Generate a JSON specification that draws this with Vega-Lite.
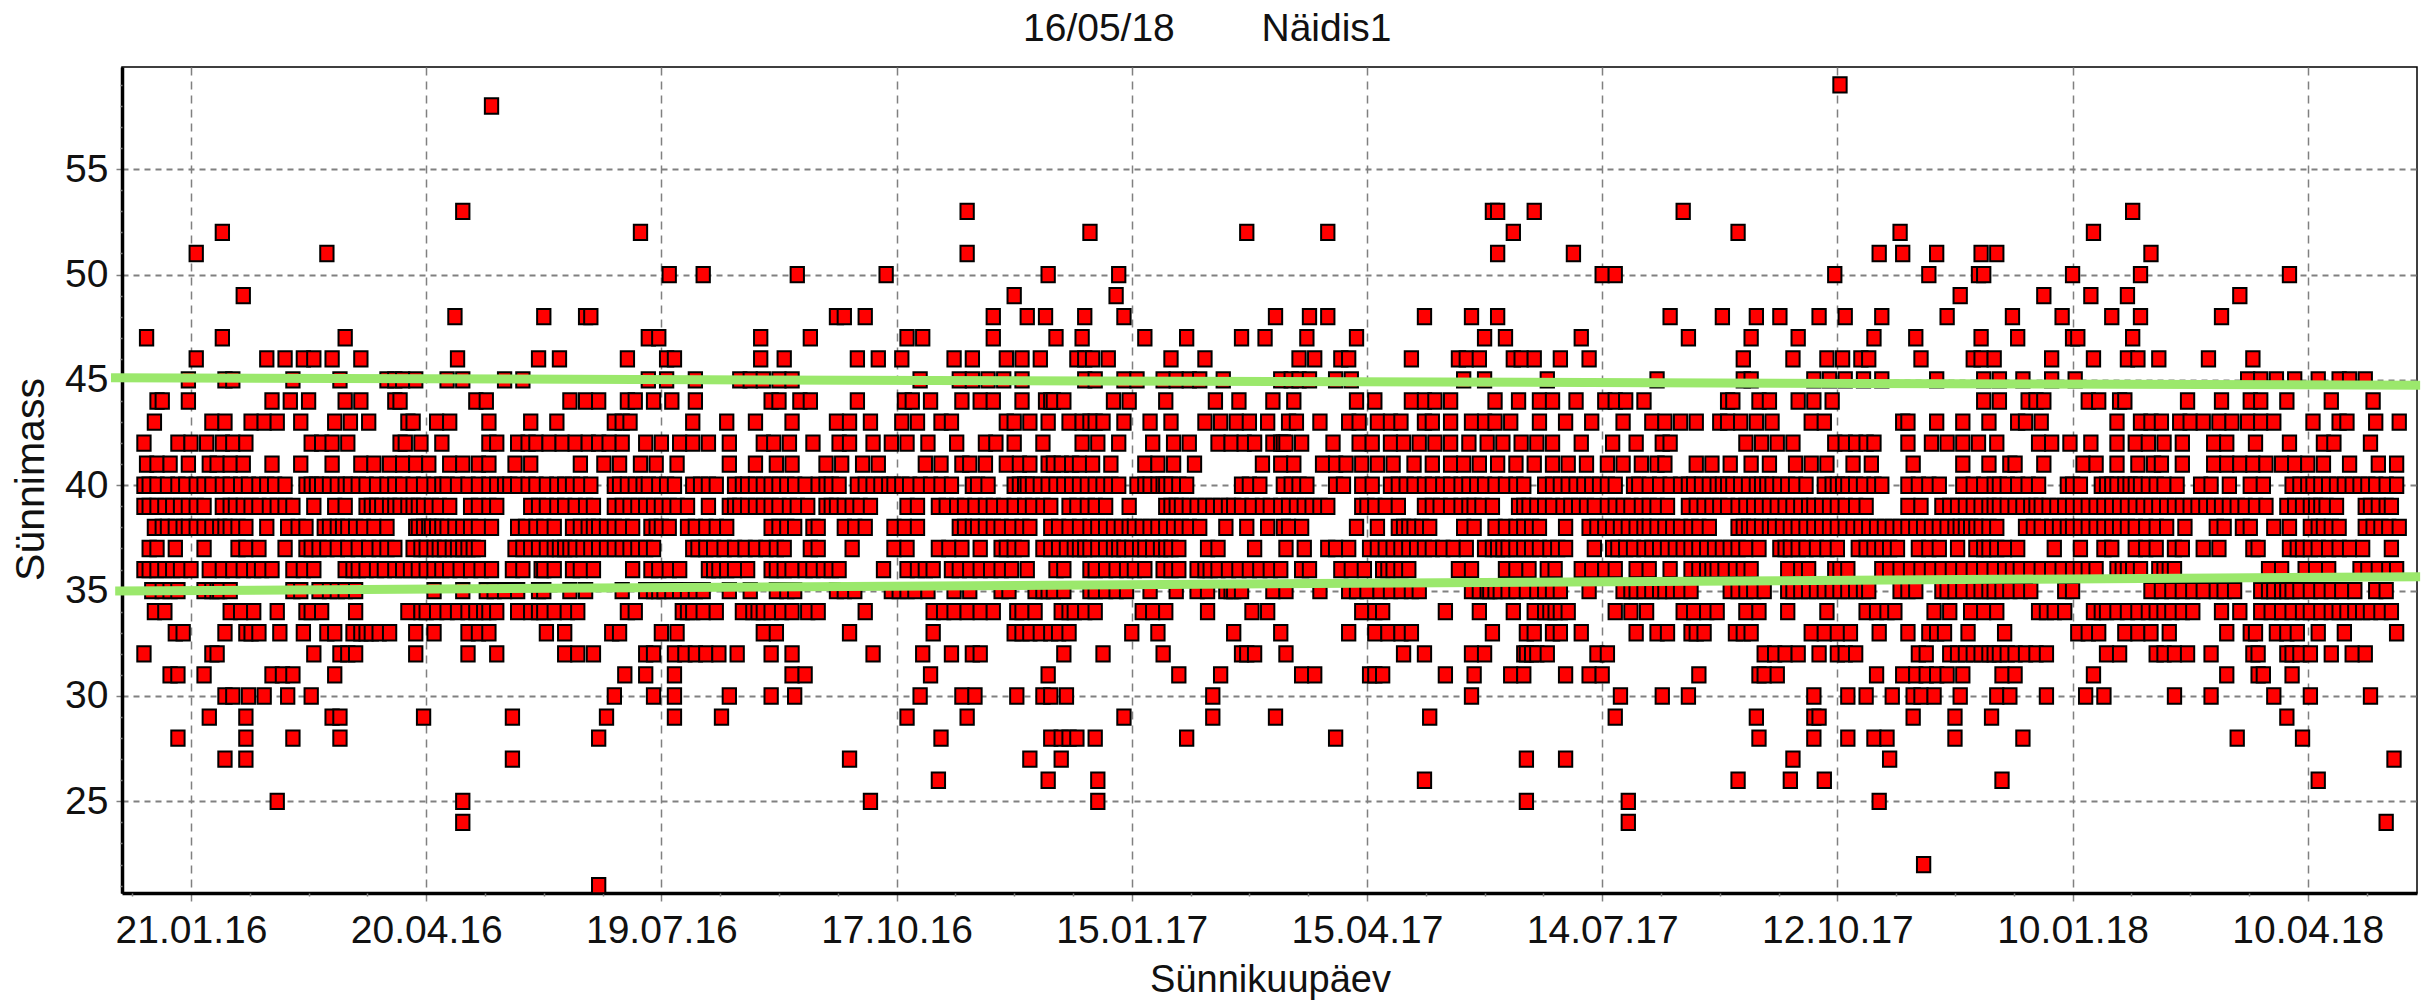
{"$schema":"https://vega.github.io/schema/vega-lite/v6.json","width":2295,"height":826,"autosize":"none","padding":{"left":122,"top":67,"right":18,"bottom":108},"background":"white","title":{"text":"16/05/18\u00a0\u00a0\u00a0\u00a0\u00a0\u00a0\u00a0\u00a0Näidis1","anchor":"start","frame":"group","dx":901,"offset":18,"font":"Liberation Sans","fontSize":39,"fontWeight":"normal","color":"#111"},"config":{"view":{"stroke":"#000","strokeWidth":1.5},"axis":{"labelFont":"Liberation Sans","titleFont":"Liberation Sans","labelColor":"#111","titleColor":"#111","titleFontWeight":"normal"}},"datasets":{"pts":[
{"d":631,"m":59},{"d":115,"m":58},
{"d":104,"m":53},{"d":297,"m":53},{"d":498,"m":53},{"d":500,"m":53},{"d":514,"m":53},{"d":571,"m":53},{"d":743,"m":53},
{"d":12,"m":52},{"d":172,"m":52},{"d":344,"m":52},{"d":404,"m":52},{"d":435,"m":52},{"d":506,"m":52},{"d":592,"m":52},{"d":654,"m":52},{"d":728,"m":52},
{"d":2,"m":51},{"d":52,"m":51},{"d":297,"m":51},{"d":500,"m":51},{"d":529,"m":51},{"d":646,"m":51},{"d":655,"m":51},{"d":668,"m":51},{"d":685,"m":51},{"d":691,"m":51},{"d":750,"m":51},
{"d":183,"m":50},{"d":196,"m":50},{"d":232,"m":50},{"d":266,"m":50},{"d":328,"m":50},{"d":355,"m":50},{"d":540,"m":50},{"d":545,"m":50},{"d":629,"m":50},{"d":665,"m":50},{"d":684,"m":50},{"d":686,"m":50},{"d":720,"m":50},{"d":746,"m":50},{"d":803,"m":50},
{"d":20,"m":49},{"d":315,"m":49},{"d":354,"m":49},{"d":677,"m":49},{"d":709,"m":49},{"d":727,"m":49},{"d":741,"m":49},{"d":784,"m":49},
{"d":101,"m":48},{"d":135,"m":48},{"d":151,"m":48},{"d":153,"m":48},{"d":247,"m":48},{"d":250,"m":48},{"d":258,"m":48},{"d":307,"m":48},{"d":320,"m":48},{"d":327,"m":48},{"d":342,"m":48},{"d":357,"m":48},{"d":415,"m":48},{"d":428,"m":48},{"d":435,"m":48},{"d":472,"m":48},{"d":490,"m":48},{"d":500,"m":48},{"d":566,"m":48},{"d":586,"m":48},{"d":599,"m":48},{"d":608,"m":48},{"d":623,"m":48},{"d":633,"m":48},{"d":647,"m":48},{"d":672,"m":48},{"d":697,"m":48},{"d":716,"m":48},{"d":735,"m":48},{"d":746,"m":48},{"d":777,"m":48},
{"d":-17,"m":47},{"d":12,"m":47},{"d":59,"m":47},{"d":175,"m":47},{"d":179,"m":47},{"d":218,"m":47},{"d":237,"m":47},{"d":274,"m":47},{"d":280,"m":47},{"d":307,"m":47},{"d":331,"m":47},{"d":341,"m":47},{"d":365,"m":47},{"d":381,"m":47},{"d":402,"m":47},{"d":411,"m":47},{"d":427,"m":47},{"d":446,"m":47},{"d":495,"m":47},{"d":503,"m":47},{"d":532,"m":47},{"d":573,"m":47},{"d":597,"m":47},{"d":615,"m":47},{"d":644,"m":47},{"d":660,"m":47},{"d":685,"m":47},{"d":699,"m":47},{"d":720,"m":47},{"d":722,"m":47},{"d":743,"m":47},
{"d":2,"m":46},{"d":29,"m":46},{"d":36,"m":46},{"d":43,"m":46},{"d":47,"m":46},{"d":54,"m":46},{"d":65,"m":46},{"d":102,"m":46},{"d":133,"m":46},{"d":141,"m":46},{"d":167,"m":46},{"d":182,"m":46},{"d":185,"m":46},{"d":218,"m":46},{"d":227,"m":46},{"d":255,"m":46},{"d":263,"m":46},{"d":272,"m":46},{"d":292,"m":46},{"d":299,"m":46},{"d":312,"m":46},{"d":318,"m":46},{"d":325,"m":46},{"d":339,"m":46},{"d":342,"m":46},{"d":345,"m":46},{"d":351,"m":46},{"d":375,"m":46},{"d":388,"m":46},{"d":424,"m":46},{"d":430,"m":46},{"d":440,"m":46},{"d":443,"m":46},{"d":467,"m":46},{"d":485,"m":46},{"d":488,"m":46},{"d":493,"m":46},{"d":506,"m":46},{"d":509,"m":46},{"d":514,"m":46},{"d":524,"m":46},{"d":535,"m":46},{"d":594,"m":46},{"d":613,"m":46},{"d":626,"m":46},{"d":632,"m":46},{"d":639,"m":46},{"d":642,"m":46},{"d":662,"m":46},{"d":682,"m":46},{"d":685,"m":46},{"d":690,"m":46},{"d":712,"m":46},{"d":728,"m":46},{"d":741,"m":46},{"d":745,"m":46},{"d":753,"m":46},{"d":772,"m":46},{"d":789,"m":46},
{"d":-1,"m":45},{"d":13,"m":45},{"d":16,"m":45},{"d":39,"m":45},{"d":57,"m":45},{"d":75,"m":45},{"d":78,"m":45},{"d":81,"m":45},{"d":86,"m":45},{"d":98,"m":45},{"d":104,"m":45},{"d":120,"m":45},{"d":127,"m":45},{"d":175,"m":45},{"d":182,"m":45},{"d":193,"m":45},{"d":210,"m":45},{"d":214,"m":45},{"d":219,"m":45},{"d":225,"m":45},{"d":230,"m":45},{"d":279,"m":45},{"d":294,"m":45},{"d":299,"m":45},{"d":305,"m":45},{"d":311,"m":45},{"d":318,"m":45},{"d":342,"m":45},{"d":346,"m":45},{"d":357,"m":45},{"d":362,"m":45},{"d":372,"m":45},{"d":377,"m":45},{"d":382,"m":45},{"d":386,"m":45},{"d":395,"m":45},{"d":417,"m":45},{"d":421,"m":45},{"d":424,"m":45},{"d":428,"m":45},{"d":438,"m":45},{"d":444,"m":45},{"d":487,"m":45},{"d":495,"m":45},{"d":519,"m":45},{"d":561,"m":45},{"d":594,"m":45},{"d":597,"m":45},{"d":621,"m":45},{"d":627,"m":45},{"d":633,"m":45},{"d":640,"m":45},{"d":647,"m":45},{"d":668,"m":45},{"d":686,"m":45},{"d":692,"m":45},{"d":701,"m":45},{"d":712,"m":45},{"d":721,"m":45},{"d":787,"m":45},{"d":792,"m":45},{"d":798,"m":45},{"d":805,"m":45},{"d":814,"m":45},{"d":822,"m":45},{"d":826,"m":45},{"d":832,"m":45},
{"d":-13,"m":44},{"d":-11,"m":44},{"d":-1,"m":44},{"d":31,"m":44},{"d":38,"m":44},{"d":45,"m":44},{"d":59,"m":44},{"d":65,"m":44},{"d":78,"m":44},{"d":80,"m":44},{"d":109,"m":44},{"d":113,"m":44},{"d":145,"m":44},{"d":151,"m":44},{"d":156,"m":44},{"d":167,"m":44},{"d":170,"m":44},{"d":177,"m":44},{"d":184,"m":44},{"d":193,"m":44},{"d":222,"m":44},{"d":225,"m":44},{"d":233,"m":44},{"d":237,"m":44},{"d":255,"m":44},{"d":273,"m":44},{"d":276,"m":44},{"d":283,"m":44},{"d":295,"m":44},{"d":302,"m":44},{"d":307,"m":44},{"d":318,"m":44},{"d":327,"m":44},{"d":329,"m":44},{"d":330,"m":44},{"d":334,"m":44},{"d":353,"m":44},{"d":359,"m":44},{"d":373,"m":44},{"d":392,"m":44},{"d":401,"m":44},{"d":414,"m":44},{"d":422,"m":44},{"d":446,"m":44},{"d":453,"m":44},{"d":467,"m":44},{"d":472,"m":44},{"d":476,"m":44},{"d":482,"m":44},{"d":499,"m":44},{"d":508,"m":44},{"d":516,"m":44},{"d":521,"m":44},{"d":530,"m":44},{"d":541,"m":44},{"d":545,"m":44},{"d":549,"m":44},{"d":556,"m":44},{"d":588,"m":44},{"d":590,"m":44},{"d":600,"m":44},{"d":604,"m":44},{"d":615,"m":44},{"d":621,"m":44},{"d":628,"m":44},{"d":686,"m":44},{"d":692,"m":44},{"d":703,"m":44},{"d":706,"m":44},{"d":709,"m":44},{"d":726,"m":44},{"d":730,"m":44},{"d":738,"m":44},{"d":740,"m":44},{"d":764,"m":44},{"d":777,"m":44},{"d":788,"m":44},{"d":792,"m":44},{"d":802,"m":44},{"d":819,"m":44},{"d":835,"m":44},
{"d":-14,"m":43},{"d":8,"m":43},{"d":13,"m":43},{"d":23,"m":43},{"d":28,"m":43},{"d":33,"m":43},{"d":42,"m":43},{"d":55,"m":43},{"d":61,"m":43},{"d":68,"m":43},{"d":83,"m":43},{"d":85,"m":43},{"d":94,"m":43},{"d":99,"m":43},{"d":114,"m":43},{"d":130,"m":43},{"d":140,"m":43},{"d":162,"m":43},{"d":165,"m":43},{"d":168,"m":43},{"d":192,"m":43},{"d":205,"m":43},{"d":216,"m":43},{"d":230,"m":43},{"d":247,"m":43},{"d":252,"m":43},{"d":260,"m":43},{"d":272,"m":43},{"d":278,"m":43},{"d":287,"m":43},{"d":291,"m":43},{"d":312,"m":43},{"d":315,"m":43},{"d":321,"m":43},{"d":328,"m":43},{"d":336,"m":43},{"d":341,"m":43},{"d":344,"m":43},{"d":346,"m":43},{"d":349,"m":43},{"d":357,"m":43},{"d":367,"m":43},{"d":375,"m":43},{"d":388,"m":43},{"d":394,"m":43},{"d":400,"m":43},{"d":405,"m":43},{"d":412,"m":43},{"d":420,"m":43},{"d":423,"m":43},{"d":432,"m":43},{"d":443,"m":43},{"d":447,"m":43},{"d":454,"m":43},{"d":459,"m":43},{"d":463,"m":43},{"d":472,"m":43},{"d":475,"m":43},{"d":482,"m":43},{"d":490,"m":43},{"d":495,"m":43},{"d":499,"m":43},{"d":505,"m":43},{"d":516,"m":43},{"d":526,"m":43},{"d":536,"m":43},{"d":548,"m":43},{"d":559,"m":43},{"d":564,"m":43},{"d":570,"m":43},{"d":576,"m":43},{"d":585,"m":43},{"d":588,"m":43},{"d":593,"m":43},{"d":599,"m":43},{"d":605,"m":43},{"d":620,"m":43},{"d":625,"m":43},{"d":655,"m":43},{"d":657,"m":43},{"d":668,"m":43},{"d":678,"m":43},{"d":688,"m":43},{"d":699,"m":43},{"d":702,"m":43},{"d":708,"m":43},{"d":737,"m":43},{"d":746,"m":43},{"d":750,"m":43},{"d":754,"m":43},{"d":761,"m":43},{"d":765,"m":43},{"d":770,"m":43},{"d":776,"m":43},{"d":781,"m":43},{"d":787,"m":43},{"d":792,"m":43},{"d":797,"m":43},{"d":812,"m":43},{"d":822,"m":43},{"d":825,"m":43},{"d":836,"m":43},{"d":845,"m":43},
{"d":-18,"m":42},{"d":-5,"m":42},{"d":0,"m":42},{"d":6,"m":42},{"d":12,"m":42},{"d":16,"m":42},{"d":21,"m":42},{"d":46,"m":42},{"d":50,"m":42},{"d":54,"m":42},{"d":60,"m":42},{"d":80,"m":42},{"d":82,"m":42},{"d":88,"m":42},{"d":96,"m":42},{"d":114,"m":42},{"d":117,"m":42},{"d":125,"m":42},{"d":129,"m":42},{"d":132,"m":42},{"d":137,"m":42},{"d":142,"m":42},{"d":147,"m":42},{"d":152,"m":42},{"d":156,"m":42},{"d":160,"m":42},{"d":165,"m":42},{"d":174,"m":42},{"d":180,"m":42},{"d":187,"m":42},{"d":192,"m":42},{"d":198,"m":42},{"d":206,"m":42},{"d":219,"m":42},{"d":223,"m":42},{"d":229,"m":42},{"d":238,"m":42},{"d":248,"m":42},{"d":252,"m":42},{"d":261,"m":42},{"d":268,"m":42},{"d":274,"m":42},{"d":282,"m":42},{"d":293,"m":42},{"d":304,"m":42},{"d":308,"m":42},{"d":315,"m":42},{"d":326,"m":42},{"d":341,"m":42},{"d":347,"m":42},{"d":355,"m":42},{"d":368,"m":42},{"d":376,"m":42},{"d":382,"m":42},{"d":393,"m":42},{"d":398,"m":42},{"d":403,"m":42},{"d":407,"m":42},{"d":414,"m":42},{"d":417,"m":42},{"d":418,"m":42},{"d":419,"m":42},{"d":425,"m":42},{"d":437,"m":42},{"d":447,"m":42},{"d":452,"m":42},{"d":459,"m":42},{"d":464,"m":42},{"d":470,"m":42},{"d":476,"m":42},{"d":482,"m":42},{"d":489,"m":42},{"d":496,"m":42},{"d":502,"m":42},{"d":509,"m":42},{"d":515,"m":42},{"d":521,"m":42},{"d":532,"m":42},{"d":544,"m":42},{"d":553,"m":42},{"d":563,"m":42},{"d":566,"m":42},{"d":595,"m":42},{"d":601,"m":42},{"d":607,"m":42},{"d":613,"m":42},{"d":629,"m":42},{"d":633,"m":42},{"d":637,"m":42},{"d":641,"m":42},{"d":644,"m":42},{"d":657,"m":42},{"d":666,"m":42},{"d":672,"m":42},{"d":678,"m":42},{"d":684,"m":42},{"d":691,"m":42},{"d":707,"m":42},{"d":712,"m":42},{"d":719,"m":42},{"d":727,"m":42},{"d":737,"m":42},{"d":744,"m":42},{"d":749,"m":42},{"d":755,"m":42},{"d":762,"m":42},{"d":774,"m":42},{"d":779,"m":42},{"d":790,"m":42},{"d":803,"m":42},{"d":816,"m":42},{"d":820,"m":42},{"d":834,"m":42},
{"d":-17,"m":41},{"d":-13,"m":41},{"d":-8,"m":41},{"d":-1,"m":41},{"d":7,"m":41},{"d":10,"m":41},{"d":15,"m":41},{"d":20,"m":41},{"d":31,"m":41},{"d":42,"m":41},{"d":54,"m":41},{"d":65,"m":41},{"d":70,"m":41},{"d":76,"m":41},{"d":81,"m":41},{"d":86,"m":41},{"d":91,"m":41},{"d":99,"m":41},{"d":104,"m":41},{"d":110,"m":41},{"d":114,"m":41},{"d":124,"m":41},{"d":130,"m":41},{"d":149,"m":41},{"d":158,"m":41},{"d":164,"m":41},{"d":172,"m":41},{"d":178,"m":41},{"d":186,"m":41},{"d":206,"m":41},{"d":216,"m":41},{"d":224,"m":41},{"d":230,"m":41},{"d":243,"m":41},{"d":249,"m":41},{"d":257,"m":41},{"d":263,"m":41},{"d":281,"m":41},{"d":287,"m":41},{"d":295,"m":41},{"d":298,"m":41},{"d":304,"m":41},{"d":312,"m":41},{"d":317,"m":41},{"d":321,"m":41},{"d":328,"m":41},{"d":330,"m":41},{"d":333,"m":41},{"d":337,"m":41},{"d":340,"m":41},{"d":345,"m":41},{"d":352,"m":41},{"d":365,"m":41},{"d":370,"m":41},{"d":376,"m":41},{"d":384,"m":41},{"d":410,"m":41},{"d":417,"m":41},{"d":422,"m":41},{"d":433,"m":41},{"d":438,"m":41},{"d":442,"m":41},{"d":448,"m":41},{"d":454,"m":41},{"d":460,"m":41},{"d":468,"m":41},{"d":475,"m":41},{"d":482,"m":41},{"d":487,"m":41},{"d":493,"m":41},{"d":500,"m":41},{"d":507,"m":41},{"d":514,"m":41},{"d":521,"m":41},{"d":527,"m":41},{"d":534,"m":41},{"d":542,"m":41},{"d":548,"m":41},{"d":555,"m":41},{"d":561,"m":41},{"d":564,"m":41},{"d":576,"m":41},{"d":582,"m":41},{"d":589,"m":41},{"d":597,"m":41},{"d":604,"m":41},{"d":614,"m":41},{"d":620,"m":41},{"d":626,"m":41},{"d":636,"m":41},{"d":643,"m":41},{"d":659,"m":41},{"d":678,"m":41},{"d":688,"m":41},{"d":696,"m":41},{"d":698,"m":41},{"d":709,"m":41},{"d":724,"m":41},{"d":729,"m":41},{"d":737,"m":41},{"d":745,"m":41},{"d":751,"m":41},{"d":754,"m":41},{"d":762,"m":41},{"d":774,"m":41},{"d":779,"m":41},{"d":784,"m":41},{"d":789,"m":41},{"d":794,"m":41},{"d":800,"m":41},{"d":805,"m":41},{"d":810,"m":41},{"d":816,"m":41},{"d":826,"m":41},{"d":837,"m":41},{"d":844,"m":41},
{"d":-18,"m":40},{"d":-16,"m":40},{"d":-13,"m":40},{"d":-9,"m":40},{"d":-5,"m":40},{"d":-2,"m":40},{"d":2,"m":40},{"d":5,"m":40},{"d":8,"m":40},{"d":12,"m":40},{"d":15,"m":40},{"d":19,"m":40},{"d":22,"m":40},{"d":26,"m":40},{"d":29,"m":40},{"d":32,"m":40},{"d":36,"m":40},{"d":44,"m":40},{"d":46,"m":40},{"d":48,"m":40},{"d":50,"m":40},{"d":53,"m":40},{"d":56,"m":40},{"d":59,"m":40},{"d":61,"m":40},{"d":64,"m":40},{"d":67,"m":40},{"d":71,"m":40},{"d":75,"m":40},{"d":78,"m":40},{"d":81,"m":40},{"d":85,"m":40},{"d":89,"m":40},{"d":93,"m":40},{"d":96,"m":40},{"d":98,"m":40},{"d":102,"m":40},{"d":106,"m":40},{"d":110,"m":40},{"d":114,"m":40},{"d":117,"m":40},{"d":120,"m":40},{"d":122,"m":40},{"d":125,"m":40},{"d":129,"m":40},{"d":132,"m":40},{"d":136,"m":40},{"d":140,"m":40},{"d":143,"m":40},{"d":146,"m":40},{"d":149,"m":40},{"d":153,"m":40},{"d":162,"m":40},{"d":164,"m":40},{"d":167,"m":40},{"d":170,"m":40},{"d":173,"m":40},{"d":175,"m":40},{"d":179,"m":40},{"d":182,"m":40},{"d":185,"m":40},{"d":192,"m":40},{"d":195,"m":40},{"d":198,"m":40},{"d":201,"m":40},{"d":208,"m":40},{"d":211,"m":40},{"d":213,"m":40},{"d":216,"m":40},{"d":219,"m":40},{"d":222,"m":40},{"d":225,"m":40},{"d":228,"m":40},{"d":231,"m":40},{"d":235,"m":40},{"d":240,"m":40},{"d":243,"m":40},{"d":245,"m":40},{"d":248,"m":40},{"d":255,"m":40},{"d":258,"m":40},{"d":261,"m":40},{"d":264,"m":40},{"d":267,"m":40},{"d":269,"m":40},{"d":272,"m":40},{"d":275,"m":40},{"d":279,"m":40},{"d":283,"m":40},{"d":287,"m":40},{"d":291,"m":40},{"d":299,"m":40},{"d":301,"m":40},{"d":305,"m":40},{"d":315,"m":40},{"d":317,"m":40},{"d":319,"m":40},{"d":320,"m":40},{"d":322,"m":40},{"d":325,"m":40},{"d":328,"m":40},{"d":331,"m":40},{"d":334,"m":40},{"d":337,"m":40},{"d":340,"m":40},{"d":343,"m":40},{"d":346,"m":40},{"d":349,"m":40},{"d":352,"m":40},{"d":355,"m":40},{"d":362,"m":40},{"d":365,"m":40},{"d":367,"m":40},{"d":370,"m":40},{"d":372,"m":40},{"d":373,"m":40},{"d":375,"m":40},{"d":378,"m":40},{"d":381,"m":40},{"d":402,"m":40},{"d":405,"m":40},{"d":409,"m":40},{"d":418,"m":40},{"d":421,"m":40},{"d":424,"m":40},{"d":427,"m":40},{"d":438,"m":40},{"d":441,"m":40},{"d":448,"m":40},{"d":452,"m":40},{"d":459,"m":40},{"d":462,"m":40},{"d":465,"m":40},{"d":468,"m":40},{"d":472,"m":40},{"d":475,"m":40},{"d":479,"m":40},{"d":482,"m":40},{"d":486,"m":40},{"d":489,"m":40},{"d":492,"m":40},{"d":495,"m":40},{"d":499,"m":40},{"d":503,"m":40},{"d":507,"m":40},{"d":510,"m":40},{"d":518,"m":40},{"d":521,"m":40},{"d":524,"m":40},{"d":527,"m":40},{"d":530,"m":40},{"d":533,"m":40},{"d":536,"m":40},{"d":539,"m":40},{"d":542,"m":40},{"d":545,"m":40},{"d":552,"m":40},{"d":554,"m":40},{"d":558,"m":40},{"d":562,"m":40},{"d":566,"m":40},{"d":570,"m":40},{"d":573,"m":40},{"d":575,"m":40},{"d":578,"m":40},{"d":581,"m":40},{"d":584,"m":40},{"d":586,"m":40},{"d":588,"m":40},{"d":590,"m":40},{"d":593,"m":40},{"d":596,"m":40},{"d":599,"m":40},{"d":601,"m":40},{"d":603,"m":40},{"d":605,"m":40},{"d":608,"m":40},{"d":611,"m":40},{"d":614,"m":40},{"d":618,"m":40},{"d":625,"m":40},{"d":628,"m":40},{"d":630,"m":40},{"d":632,"m":40},{"d":634,"m":40},{"d":637,"m":40},{"d":640,"m":40},{"d":644,"m":40},{"d":647,"m":40},{"d":657,"m":40},{"d":661,"m":40},{"d":665,"m":40},{"d":669,"m":40},{"d":678,"m":40},{"d":682,"m":40},{"d":686,"m":40},{"d":690,"m":40},{"d":692,"m":40},{"d":695,"m":40},{"d":699,"m":40},{"d":703,"m":40},{"d":707,"m":40},{"d":718,"m":40},{"d":720,"m":40},{"d":723,"m":40},{"d":731,"m":40},{"d":733,"m":40},{"d":735,"m":40},{"d":737,"m":40},{"d":740,"m":40},{"d":742,"m":40},{"d":744,"m":40},{"d":746,"m":40},{"d":749,"m":40},{"d":752,"m":40},{"d":755,"m":40},{"d":760,"m":40},{"d":769,"m":40},{"d":773,"m":40},{"d":780,"m":40},{"d":788,"m":40},{"d":793,"m":40},{"d":804,"m":40},{"d":807,"m":40},{"d":810,"m":40},{"d":812,"m":40},{"d":815,"m":40},{"d":818,"m":40},{"d":821,"m":40},{"d":824,"m":40},{"d":827,"m":40},{"d":830,"m":40},{"d":833,"m":40},{"d":836,"m":40},{"d":840,"m":40},{"d":844,"m":40},
{"d":-18,"m":39},{"d":-16,"m":39},{"d":-13,"m":39},{"d":-10,"m":39},{"d":-7,"m":39},{"d":-4,"m":39},{"d":-1,"m":39},{"d":2,"m":39},{"d":5,"m":39},{"d":12,"m":39},{"d":15,"m":39},{"d":17,"m":39},{"d":20,"m":39},{"d":23,"m":39},{"d":26,"m":39},{"d":30,"m":39},{"d":33,"m":39},{"d":36,"m":39},{"d":39,"m":39},{"d":47,"m":39},{"d":55,"m":39},{"d":59,"m":39},{"d":67,"m":39},{"d":69,"m":39},{"d":71,"m":39},{"d":73,"m":39},{"d":76,"m":39},{"d":78,"m":39},{"d":80,"m":39},{"d":83,"m":39},{"d":85,"m":39},{"d":87,"m":39},{"d":89,"m":39},{"d":92,"m":39},{"d":95,"m":39},{"d":99,"m":39},{"d":107,"m":39},{"d":110,"m":39},{"d":114,"m":39},{"d":117,"m":39},{"d":130,"m":39},{"d":133,"m":39},{"d":136,"m":39},{"d":140,"m":39},{"d":143,"m":39},{"d":147,"m":39},{"d":151,"m":39},{"d":154,"m":39},{"d":162,"m":39},{"d":165,"m":39},{"d":168,"m":39},{"d":171,"m":39},{"d":174,"m":39},{"d":177,"m":39},{"d":180,"m":39},{"d":183,"m":39},{"d":186,"m":39},{"d":190,"m":39},{"d":198,"m":39},{"d":206,"m":39},{"d":208,"m":39},{"d":210,"m":39},{"d":213,"m":39},{"d":216,"m":39},{"d":219,"m":39},{"d":222,"m":39},{"d":225,"m":39},{"d":229,"m":39},{"d":232,"m":39},{"d":236,"m":39},{"d":243,"m":39},{"d":245,"m":39},{"d":247,"m":39},{"d":250,"m":39},{"d":253,"m":39},{"d":256,"m":39},{"d":260,"m":39},{"d":274,"m":39},{"d":278,"m":39},{"d":286,"m":39},{"d":289,"m":39},{"d":293,"m":39},{"d":296,"m":39},{"d":300,"m":39},{"d":304,"m":39},{"d":307,"m":39},{"d":311,"m":39},{"d":315,"m":39},{"d":319,"m":39},{"d":322,"m":39},{"d":326,"m":39},{"d":329,"m":39},{"d":336,"m":39},{"d":339,"m":39},{"d":343,"m":39},{"d":346,"m":39},{"d":350,"m":39},{"d":359,"m":39},{"d":373,"m":39},{"d":375,"m":39},{"d":377,"m":39},{"d":379,"m":39},{"d":382,"m":39},{"d":385,"m":39},{"d":388,"m":39},{"d":391,"m":39},{"d":394,"m":39},{"d":397,"m":39},{"d":399,"m":39},{"d":402,"m":39},{"d":406,"m":39},{"d":410,"m":39},{"d":413,"m":39},{"d":417,"m":39},{"d":420,"m":39},{"d":423,"m":39},{"d":426,"m":39},{"d":429,"m":39},{"d":432,"m":39},{"d":435,"m":39},{"d":448,"m":39},{"d":450,"m":39},{"d":453,"m":39},{"d":457,"m":39},{"d":462,"m":39},{"d":472,"m":39},{"d":475,"m":39},{"d":478,"m":39},{"d":482,"m":39},{"d":486,"m":39},{"d":489,"m":39},{"d":491,"m":39},{"d":494,"m":39},{"d":498,"m":39},{"d":508,"m":39},{"d":510,"m":39},{"d":512,"m":39},{"d":515,"m":39},{"d":518,"m":39},{"d":521,"m":39},{"d":525,"m":39},{"d":528,"m":39},{"d":531,"m":39},{"d":534,"m":39},{"d":537,"m":39},{"d":542,"m":39},{"d":545,"m":39},{"d":548,"m":39},{"d":551,"m":39},{"d":555,"m":39},{"d":558,"m":39},{"d":561,"m":39},{"d":565,"m":39},{"d":573,"m":39},{"d":576,"m":39},{"d":579,"m":39},{"d":582,"m":39},{"d":585,"m":39},{"d":588,"m":39},{"d":592,"m":39},{"d":595,"m":39},{"d":598,"m":39},{"d":601,"m":39},{"d":604,"m":39},{"d":607,"m":39},{"d":610,"m":39},{"d":613,"m":39},{"d":616,"m":39},{"d":619,"m":39},{"d":621,"m":39},{"d":624,"m":39},{"d":627,"m":39},{"d":630,"m":39},{"d":633,"m":39},{"d":637,"m":39},{"d":641,"m":39},{"d":657,"m":39},{"d":662,"m":39},{"d":670,"m":39},{"d":673,"m":39},{"d":676,"m":39},{"d":679,"m":39},{"d":682,"m":39},{"d":685,"m":39},{"d":688,"m":39},{"d":690,"m":39},{"d":692,"m":39},{"d":695,"m":39},{"d":698,"m":39},{"d":701,"m":39},{"d":704,"m":39},{"d":706,"m":39},{"d":708,"m":39},{"d":711,"m":39},{"d":714,"m":39},{"d":717,"m":39},{"d":720,"m":39},{"d":723,"m":39},{"d":726,"m":39},{"d":729,"m":39},{"d":732,"m":39},{"d":735,"m":39},{"d":738,"m":39},{"d":741,"m":39},{"d":744,"m":39},{"d":747,"m":39},{"d":750,"m":39},{"d":753,"m":39},{"d":756,"m":39},{"d":759,"m":39},{"d":762,"m":39},{"d":765,"m":39},{"d":768,"m":39},{"d":771,"m":39},{"d":774,"m":39},{"d":777,"m":39},{"d":780,"m":39},{"d":783,"m":39},{"d":786,"m":39},{"d":790,"m":39},{"d":794,"m":39},{"d":802,"m":39},{"d":805,"m":39},{"d":808,"m":39},{"d":811,"m":39},{"d":813,"m":39},{"d":815,"m":39},{"d":817,"m":39},{"d":821,"m":39},{"d":832,"m":39},{"d":834,"m":39},{"d":837,"m":39},{"d":840,"m":39},{"d":842,"m":39},
{"d":-14,"m":38},{"d":-11,"m":38},{"d":-9,"m":38},{"d":-6,"m":38},{"d":-3,"m":38},{"d":-1,"m":38},{"d":2,"m":38},{"d":5,"m":38},{"d":8,"m":38},{"d":11,"m":38},{"d":13,"m":38},{"d":15,"m":38},{"d":18,"m":38},{"d":21,"m":38},{"d":29,"m":38},{"d":37,"m":38},{"d":41,"m":38},{"d":44,"m":38},{"d":51,"m":38},{"d":53,"m":38},{"d":56,"m":38},{"d":58,"m":38},{"d":60,"m":38},{"d":63,"m":38},{"d":66,"m":38},{"d":70,"m":38},{"d":75,"m":38},{"d":86,"m":38},{"d":87,"m":38},{"d":89,"m":38},{"d":91,"m":38},{"d":92,"m":38},{"d":94,"m":38},{"d":96,"m":38},{"d":98,"m":38},{"d":101,"m":38},{"d":104,"m":38},{"d":107,"m":38},{"d":110,"m":38},{"d":115,"m":38},{"d":125,"m":38},{"d":128,"m":38},{"d":132,"m":38},{"d":135,"m":38},{"d":139,"m":38},{"d":146,"m":38},{"d":149,"m":38},{"d":152,"m":38},{"d":154,"m":38},{"d":156,"m":38},{"d":159,"m":38},{"d":162,"m":38},{"d":165,"m":38},{"d":169,"m":38},{"d":176,"m":38},{"d":178,"m":38},{"d":180,"m":38},{"d":183,"m":38},{"d":190,"m":38},{"d":193,"m":38},{"d":197,"m":38},{"d":201,"m":38},{"d":205,"m":38},{"d":222,"m":38},{"d":225,"m":38},{"d":228,"m":38},{"d":231,"m":38},{"d":238,"m":38},{"d":240,"m":38},{"d":250,"m":38},{"d":254,"m":38},{"d":258,"m":38},{"d":269,"m":38},{"d":273,"m":38},{"d":278,"m":38},{"d":294,"m":38},{"d":296,"m":38},{"d":299,"m":38},{"d":301,"m":38},{"d":304,"m":38},{"d":307,"m":38},{"d":310,"m":38},{"d":314,"m":38},{"d":318,"m":38},{"d":321,"m":38},{"d":329,"m":38},{"d":332,"m":38},{"d":336,"m":38},{"d":340,"m":38},{"d":344,"m":38},{"d":347,"m":38},{"d":350,"m":38},{"d":353,"m":38},{"d":356,"m":38},{"d":359,"m":38},{"d":361,"m":38},{"d":364,"m":38},{"d":367,"m":38},{"d":370,"m":38},{"d":373,"m":38},{"d":376,"m":38},{"d":379,"m":38},{"d":382,"m":38},{"d":386,"m":38},{"d":396,"m":38},{"d":404,"m":38},{"d":412,"m":38},{"d":418,"m":38},{"d":420,"m":38},{"d":425,"m":38},{"d":446,"m":38},{"d":454,"m":38},{"d":462,"m":38},{"d":464,"m":38},{"d":466,"m":38},{"d":468,"m":38},{"d":471,"m":38},{"d":474,"m":38},{"d":487,"m":38},{"d":491,"m":38},{"d":499,"m":38},{"d":503,"m":38},{"d":507,"m":38},{"d":510,"m":38},{"d":513,"m":38},{"d":516,"m":38},{"d":526,"m":38},{"d":535,"m":38},{"d":538,"m":38},{"d":541,"m":38},{"d":544,"m":38},{"d":547,"m":38},{"d":550,"m":38},{"d":553,"m":38},{"d":556,"m":38},{"d":558,"m":38},{"d":561,"m":38},{"d":564,"m":38},{"d":567,"m":38},{"d":570,"m":38},{"d":574,"m":38},{"d":577,"m":38},{"d":581,"m":38},{"d":592,"m":38},{"d":594,"m":38},{"d":596,"m":38},{"d":598,"m":38},{"d":601,"m":38},{"d":604,"m":38},{"d":606,"m":38},{"d":609,"m":38},{"d":612,"m":38},{"d":615,"m":38},{"d":618,"m":38},{"d":621,"m":38},{"d":624,"m":38},{"d":627,"m":38},{"d":630,"m":38},{"d":633,"m":38},{"d":636,"m":38},{"d":639,"m":38},{"d":642,"m":38},{"d":645,"m":38},{"d":648,"m":38},{"d":651,"m":38},{"d":654,"m":38},{"d":657,"m":38},{"d":660,"m":38},{"d":663,"m":38},{"d":666,"m":38},{"d":669,"m":38},{"d":672,"m":38},{"d":675,"m":38},{"d":677,"m":38},{"d":679,"m":38},{"d":681,"m":38},{"d":683,"m":38},{"d":685,"m":38},{"d":688,"m":38},{"d":691,"m":38},{"d":702,"m":38},{"d":705,"m":38},{"d":708,"m":38},{"d":712,"m":38},{"d":715,"m":38},{"d":718,"m":38},{"d":720,"m":38},{"d":723,"m":38},{"d":726,"m":38},{"d":729,"m":38},{"d":732,"m":38},{"d":735,"m":38},{"d":738,"m":38},{"d":741,"m":38},{"d":744,"m":38},{"d":748,"m":38},{"d":752,"m":38},{"d":756,"m":38},{"d":763,"m":38},{"d":775,"m":38},{"d":778,"m":38},{"d":785,"m":38},{"d":788,"m":38},{"d":797,"m":38},{"d":803,"m":38},{"d":811,"m":38},{"d":814,"m":38},{"d":816,"m":38},{"d":819,"m":38},{"d":822,"m":38},{"d":832,"m":38},{"d":835,"m":38},{"d":838,"m":38},{"d":841,"m":38},{"d":845,"m":38},
{"d":-16,"m":37},{"d":-13,"m":37},{"d":-6,"m":37},{"d":5,"m":37},{"d":18,"m":37},{"d":21,"m":37},{"d":26,"m":37},{"d":36,"m":37},{"d":44,"m":37},{"d":46,"m":37},{"d":49,"m":37},{"d":52,"m":37},{"d":56,"m":37},{"d":60,"m":37},{"d":64,"m":37},{"d":68,"m":37},{"d":72,"m":37},{"d":75,"m":37},{"d":78,"m":37},{"d":85,"m":37},{"d":88,"m":37},{"d":90,"m":37},{"d":93,"m":37},{"d":95,"m":37},{"d":97,"m":37},{"d":100,"m":37},{"d":102,"m":37},{"d":104,"m":37},{"d":106,"m":37},{"d":108,"m":37},{"d":110,"m":37},{"d":124,"m":37},{"d":127,"m":37},{"d":130,"m":37},{"d":133,"m":37},{"d":136,"m":37},{"d":139,"m":37},{"d":141,"m":37},{"d":143,"m":37},{"d":145,"m":37},{"d":147,"m":37},{"d":150,"m":37},{"d":153,"m":37},{"d":156,"m":37},{"d":159,"m":37},{"d":162,"m":37},{"d":165,"m":37},{"d":168,"m":37},{"d":171,"m":37},{"d":174,"m":37},{"d":177,"m":37},{"d":192,"m":37},{"d":194,"m":37},{"d":197,"m":37},{"d":200,"m":37},{"d":204,"m":37},{"d":208,"m":37},{"d":212,"m":37},{"d":216,"m":37},{"d":220,"m":37},{"d":224,"m":37},{"d":227,"m":37},{"d":237,"m":37},{"d":240,"m":37},{"d":253,"m":37},{"d":269,"m":37},{"d":274,"m":37},{"d":286,"m":37},{"d":290,"m":37},{"d":295,"m":37},{"d":302,"m":37},{"d":310,"m":37},{"d":312,"m":37},{"d":315,"m":37},{"d":318,"m":37},{"d":326,"m":37},{"d":329,"m":37},{"d":332,"m":37},{"d":335,"m":37},{"d":338,"m":37},{"d":340,"m":37},{"d":342,"m":37},{"d":344,"m":37},{"d":347,"m":37},{"d":350,"m":37},{"d":353,"m":37},{"d":355,"m":37},{"d":357,"m":37},{"d":360,"m":37},{"d":363,"m":37},{"d":365,"m":37},{"d":368,"m":37},{"d":371,"m":37},{"d":373,"m":37},{"d":375,"m":37},{"d":378,"m":37},{"d":389,"m":37},{"d":393,"m":37},{"d":407,"m":37},{"d":419,"m":37},{"d":426,"m":37},{"d":435,"m":37},{"d":438,"m":37},{"d":443,"m":37},{"d":451,"m":37},{"d":454,"m":37},{"d":457,"m":37},{"d":460,"m":37},{"d":463,"m":37},{"d":466,"m":37},{"d":469,"m":37},{"d":472,"m":37},{"d":475,"m":37},{"d":479,"m":37},{"d":483,"m":37},{"d":488,"m":37},{"d":495,"m":37},{"d":498,"m":37},{"d":500,"m":37},{"d":502,"m":37},{"d":504,"m":37},{"d":507,"m":37},{"d":510,"m":37},{"d":513,"m":37},{"d":516,"m":37},{"d":520,"m":37},{"d":523,"m":37},{"d":526,"m":37},{"d":537,"m":37},{"d":544,"m":37},{"d":546,"m":37},{"d":549,"m":37},{"d":552,"m":37},{"d":556,"m":37},{"d":559,"m":37},{"d":562,"m":37},{"d":565,"m":37},{"d":568,"m":37},{"d":571,"m":37},{"d":574,"m":37},{"d":577,"m":37},{"d":580,"m":37},{"d":583,"m":37},{"d":586,"m":37},{"d":589,"m":37},{"d":592,"m":37},{"d":595,"m":37},{"d":600,"m":37},{"d":608,"m":37},{"d":610,"m":37},{"d":612,"m":37},{"d":615,"m":37},{"d":618,"m":37},{"d":622,"m":37},{"d":626,"m":37},{"d":630,"m":37},{"d":638,"m":37},{"d":641,"m":37},{"d":644,"m":37},{"d":647,"m":37},{"d":650,"m":37},{"d":653,"m":37},{"d":661,"m":37},{"d":665,"m":37},{"d":669,"m":37},{"d":676,"m":37},{"d":683,"m":37},{"d":686,"m":37},{"d":688,"m":37},{"d":691,"m":37},{"d":694,"m":37},{"d":699,"m":37},{"d":713,"m":37},{"d":723,"m":37},{"d":732,"m":37},{"d":735,"m":37},{"d":744,"m":37},{"d":748,"m":37},{"d":752,"m":37},{"d":759,"m":37},{"d":762,"m":37},{"d":770,"m":37},{"d":776,"m":37},{"d":789,"m":37},{"d":791,"m":37},{"d":803,"m":37},{"d":806,"m":37},{"d":808,"m":37},{"d":811,"m":37},{"d":814,"m":37},{"d":818,"m":37},{"d":822,"m":37},{"d":826,"m":37},{"d":831,"m":37},{"d":842,"m":37},
{"d":-18,"m":36},{"d":-16,"m":36},{"d":-13,"m":36},{"d":-10,"m":36},{"d":-7,"m":36},{"d":-4,"m":36},{"d":0,"m":36},{"d":7,"m":36},{"d":12,"m":36},{"d":16,"m":36},{"d":20,"m":36},{"d":24,"m":36},{"d":27,"m":36},{"d":31,"m":36},{"d":39,"m":36},{"d":43,"m":36},{"d":47,"m":36},{"d":59,"m":36},{"d":62,"m":36},{"d":64,"m":36},{"d":67,"m":36},{"d":71,"m":36},{"d":74,"m":36},{"d":78,"m":36},{"d":81,"m":36},{"d":84,"m":36},{"d":87,"m":36},{"d":90,"m":36},{"d":93,"m":36},{"d":96,"m":36},{"d":99,"m":36},{"d":103,"m":36},{"d":107,"m":36},{"d":111,"m":36},{"d":115,"m":36},{"d":123,"m":36},{"d":127,"m":36},{"d":134,"m":36},{"d":135,"m":36},{"d":139,"m":36},{"d":146,"m":36},{"d":149,"m":36},{"d":154,"m":36},{"d":169,"m":36},{"d":176,"m":36},{"d":179,"m":36},{"d":183,"m":36},{"d":187,"m":36},{"d":198,"m":36},{"d":200,"m":36},{"d":202,"m":36},{"d":205,"m":36},{"d":208,"m":36},{"d":213,"m":36},{"d":222,"m":36},{"d":224,"m":36},{"d":227,"m":36},{"d":230,"m":36},{"d":235,"m":36},{"d":238,"m":36},{"d":242,"m":36},{"d":245,"m":36},{"d":248,"m":36},{"d":265,"m":36},{"d":274,"m":36},{"d":278,"m":36},{"d":281,"m":36},{"d":284,"m":36},{"d":291,"m":36},{"d":294,"m":36},{"d":298,"m":36},{"d":302,"m":36},{"d":306,"m":36},{"d":310,"m":36},{"d":314,"m":36},{"d":320,"m":36},{"d":331,"m":36},{"d":334,"m":36},{"d":344,"m":36},{"d":346,"m":36},{"d":350,"m":36},{"d":354,"m":36},{"d":358,"m":36},{"d":361,"m":36},{"d":365,"m":36},{"d":372,"m":36},{"d":375,"m":36},{"d":378,"m":36},{"d":385,"m":36},{"d":388,"m":36},{"d":390,"m":36},{"d":393,"m":36},{"d":397,"m":36},{"d":401,"m":36},{"d":405,"m":36},{"d":409,"m":36},{"d":413,"m":36},{"d":417,"m":36},{"d":425,"m":36},{"d":428,"m":36},{"d":440,"m":36},{"d":444,"m":36},{"d":449,"m":36},{"d":456,"m":36},{"d":458,"m":36},{"d":460,"m":36},{"d":463,"m":36},{"d":466,"m":36},{"d":485,"m":36},{"d":490,"m":36},{"d":503,"m":36},{"d":507,"m":36},{"d":512,"m":36},{"d":519,"m":36},{"d":522,"m":36},{"d":532,"m":36},{"d":536,"m":36},{"d":541,"m":36},{"d":545,"m":36},{"d":553,"m":36},{"d":558,"m":36},{"d":566,"m":36},{"d":574,"m":36},{"d":577,"m":36},{"d":580,"m":36},{"d":582,"m":36},{"d":584,"m":36},{"d":587,"m":36},{"d":591,"m":36},{"d":594,"m":36},{"d":597,"m":36},{"d":611,"m":36},{"d":616,"m":36},{"d":619,"m":36},{"d":629,"m":36},{"d":631,"m":36},{"d":634,"m":36},{"d":647,"m":36},{"d":650,"m":36},{"d":654,"m":36},{"d":658,"m":36},{"d":662,"m":36},{"d":666,"m":36},{"d":670,"m":36},{"d":674,"m":36},{"d":678,"m":36},{"d":682,"m":36},{"d":686,"m":36},{"d":690,"m":36},{"d":694,"m":36},{"d":697,"m":36},{"d":700,"m":36},{"d":704,"m":36},{"d":708,"m":36},{"d":712,"m":36},{"d":716,"m":36},{"d":720,"m":36},{"d":723,"m":36},{"d":726,"m":36},{"d":729,"m":36},{"d":737,"m":36},{"d":739,"m":36},{"d":741,"m":36},{"d":743,"m":36},{"d":746,"m":36},{"d":753,"m":36},{"d":755,"m":36},{"d":757,"m":36},{"d":759,"m":36},{"d":795,"m":36},{"d":800,"m":36},{"d":809,"m":36},{"d":813,"m":36},{"d":818,"m":36},{"d":830,"m":36},{"d":833,"m":36},{"d":837,"m":36},{"d":841,"m":36},{"d":844,"m":36},
{"d":-15,"m":35},{"d":-11,"m":35},{"d":-8,"m":35},{"d":-5,"m":35},{"d":5,"m":35},{"d":8,"m":35},{"d":10,"m":35},{"d":11,"m":35},{"d":15,"m":35},{"d":39,"m":35},{"d":42,"m":35},{"d":49,"m":35},{"d":53,"m":35},{"d":56,"m":35},{"d":59,"m":35},{"d":63,"m":35},{"d":93,"m":35},{"d":104,"m":35},{"d":113,"m":35},{"d":116,"m":35},{"d":120,"m":35},{"d":125,"m":35},{"d":133,"m":35},{"d":135,"m":35},{"d":145,"m":35},{"d":151,"m":35},{"d":165,"m":35},{"d":174,"m":35},{"d":177,"m":35},{"d":179,"m":35},{"d":181,"m":35},{"d":184,"m":35},{"d":187,"m":35},{"d":190,"m":35},{"d":193,"m":35},{"d":196,"m":35},{"d":206,"m":35},{"d":214,"m":35},{"d":224,"m":35},{"d":228,"m":35},{"d":231,"m":35},{"d":247,"m":35},{"d":250,"m":35},{"d":254,"m":35},{"d":268,"m":35},{"d":271,"m":35},{"d":274,"m":35},{"d":277,"m":35},{"d":282,"m":35},{"d":292,"m":35},{"d":298,"m":35},{"d":310,"m":35},{"d":313,"m":35},{"d":323,"m":35},{"d":326,"m":35},{"d":328,"m":35},{"d":330,"m":35},{"d":334,"m":35},{"d":344,"m":35},{"d":346,"m":35},{"d":350,"m":35},{"d":354,"m":35},{"d":358,"m":35},{"d":367,"m":35},{"d":377,"m":35},{"d":385,"m":35},{"d":389,"m":35},{"d":396,"m":35},{"d":398,"m":35},{"d":399,"m":35},{"d":402,"m":35},{"d":414,"m":35},{"d":419,"m":35},{"d":432,"m":35},{"d":443,"m":35},{"d":446,"m":35},{"d":450,"m":35},{"d":455,"m":35},{"d":459,"m":35},{"d":463,"m":35},{"d":467,"m":35},{"d":470,"m":35},{"d":490,"m":35},{"d":493,"m":35},{"d":496,"m":35},{"d":497,"m":35},{"d":499,"m":35},{"d":501,"m":35},{"d":504,"m":35},{"d":507,"m":35},{"d":511,"m":35},{"d":515,"m":35},{"d":518,"m":35},{"d":521,"m":35},{"d":524,"m":35},{"d":535,"m":35},{"d":548,"m":35},{"d":551,"m":35},{"d":553,"m":35},{"d":556,"m":35},{"d":559,"m":35},{"d":562,"m":35},{"d":564,"m":35},{"d":567,"m":35},{"d":570,"m":35},{"d":574,"m":35},{"d":589,"m":35},{"d":592,"m":35},{"d":595,"m":35},{"d":598,"m":35},{"d":602,"m":35},{"d":611,"m":35},{"d":613,"m":35},{"d":616,"m":35},{"d":619,"m":35},{"d":622,"m":35},{"d":625,"m":35},{"d":628,"m":35},{"d":631,"m":35},{"d":634,"m":35},{"d":637,"m":35},{"d":640,"m":35},{"d":642,"m":35},{"d":654,"m":35},{"d":657,"m":35},{"d":660,"m":35},{"d":670,"m":35},{"d":672,"m":35},{"d":675,"m":35},{"d":678,"m":35},{"d":682,"m":35},{"d":685,"m":35},{"d":688,"m":35},{"d":690,"m":35},{"d":693,"m":35},{"d":696,"m":35},{"d":700,"m":35},{"d":704,"m":35},{"d":717,"m":35},{"d":720,"m":35},{"d":750,"m":35},{"d":754,"m":35},{"d":758,"m":35},{"d":762,"m":35},{"d":766,"m":35},{"d":770,"m":35},{"d":775,"m":35},{"d":778,"m":35},{"d":782,"m":35},{"d":792,"m":35},{"d":795,"m":35},{"d":797,"m":35},{"d":800,"m":35},{"d":802,"m":35},{"d":804,"m":35},{"d":807,"m":35},{"d":811,"m":35},{"d":815,"m":35},{"d":819,"m":35},{"d":823,"m":35},{"d":828,"m":35},{"d":836,"m":35},{"d":840,"m":35},
{"d":-14,"m":34},{"d":-10,"m":34},{"d":15,"m":34},{"d":19,"m":34},{"d":24,"m":34},{"d":33,"m":34},{"d":44,"m":34},{"d":46,"m":34},{"d":50,"m":34},{"d":63,"m":34},{"d":83,"m":34},{"d":88,"m":34},{"d":90,"m":34},{"d":94,"m":34},{"d":98,"m":34},{"d":102,"m":34},{"d":106,"m":34},{"d":109,"m":34},{"d":112,"m":34},{"d":114,"m":34},{"d":117,"m":34},{"d":125,"m":34},{"d":130,"m":34},{"d":133,"m":34},{"d":135,"m":34},{"d":139,"m":34},{"d":144,"m":34},{"d":148,"m":34},{"d":167,"m":34},{"d":170,"m":34},{"d":188,"m":34},{"d":190,"m":34},{"d":192,"m":34},{"d":196,"m":34},{"d":201,"m":34},{"d":211,"m":34},{"d":215,"m":34},{"d":217,"m":34},{"d":219,"m":34},{"d":222,"m":34},{"d":226,"m":34},{"d":230,"m":34},{"d":236,"m":34},{"d":240,"m":34},{"d":258,"m":34},{"d":284,"m":34},{"d":288,"m":34},{"d":292,"m":34},{"d":297,"m":34},{"d":302,"m":34},{"d":307,"m":34},{"d":316,"m":34},{"d":318,"m":34},{"d":323,"m":34},{"d":333,"m":34},{"d":336,"m":34},{"d":338,"m":34},{"d":342,"m":34},{"d":346,"m":34},{"d":364,"m":34},{"d":368,"m":34},{"d":373,"m":34},{"d":389,"m":34},{"d":406,"m":34},{"d":412,"m":34},{"d":448,"m":34},{"d":453,"m":34},{"d":456,"m":34},{"d":480,"m":34},{"d":493,"m":34},{"d":506,"m":34},{"d":514,"m":34},{"d":518,"m":34},{"d":520,"m":34},{"d":522,"m":34},{"d":524,"m":34},{"d":527,"m":34},{"d":545,"m":34},{"d":551,"m":34},{"d":557,"m":34},{"d":571,"m":34},{"d":575,"m":34},{"d":580,"m":34},{"d":584,"m":34},{"d":595,"m":34},{"d":600,"m":34},{"d":611,"m":34},{"d":626,"m":34},{"d":641,"m":34},{"d":645,"m":34},{"d":649,"m":34},{"d":652,"m":34},{"d":667,"m":34},{"d":673,"m":34},{"d":681,"m":34},{"d":686,"m":34},{"d":691,"m":34},{"d":707,"m":34},{"d":710,"m":34},{"d":713,"m":34},{"d":717,"m":34},{"d":728,"m":34},{"d":731,"m":34},{"d":733,"m":34},{"d":737,"m":34},{"d":741,"m":34},{"d":745,"m":34},{"d":749,"m":34},{"d":752,"m":34},{"d":755,"m":34},{"d":758,"m":34},{"d":762,"m":34},{"d":766,"m":34},{"d":777,"m":34},{"d":784,"m":34},{"d":792,"m":34},{"d":796,"m":34},{"d":800,"m":34},{"d":804,"m":34},{"d":808,"m":34},{"d":811,"m":34},{"d":815,"m":34},{"d":819,"m":34},{"d":822,"m":34},{"d":825,"m":34},{"d":828,"m":34},{"d":831,"m":34},{"d":834,"m":34},{"d":838,"m":34},{"d":842,"m":34},
{"d":-6,"m":33},{"d":-3,"m":33},{"d":13,"m":33},{"d":21,"m":33},{"d":23,"m":33},{"d":26,"m":33},{"d":34,"m":33},{"d":43,"m":33},{"d":52,"m":33},{"d":55,"m":33},{"d":62,"m":33},{"d":65,"m":33},{"d":67,"m":33},{"d":69,"m":33},{"d":72,"m":33},{"d":76,"m":33},{"d":86,"m":33},{"d":93,"m":33},{"d":106,"m":33},{"d":110,"m":33},{"d":114,"m":33},{"d":136,"m":33},{"d":143,"m":33},{"d":161,"m":33},{"d":164,"m":33},{"d":180,"m":33},{"d":186,"m":33},{"d":219,"m":33},{"d":224,"m":33},{"d":252,"m":33},{"d":284,"m":33},{"d":315,"m":33},{"d":318,"m":33},{"d":321,"m":33},{"d":325,"m":33},{"d":329,"m":33},{"d":332,"m":33},{"d":336,"m":33},{"d":360,"m":33},{"d":370,"m":33},{"d":399,"m":33},{"d":417,"m":33},{"d":443,"m":33},{"d":453,"m":33},{"d":458,"m":33},{"d":463,"m":33},{"d":467,"m":33},{"d":498,"m":33},{"d":511,"m":33},{"d":514,"m":33},{"d":521,"m":33},{"d":524,"m":33},{"d":532,"m":33},{"d":553,"m":33},{"d":561,"m":33},{"d":565,"m":33},{"d":574,"m":33},{"d":576,"m":33},{"d":579,"m":33},{"d":591,"m":33},{"d":594,"m":33},{"d":597,"m":33},{"d":620,"m":33},{"d":625,"m":33},{"d":630,"m":33},{"d":635,"m":33},{"d":646,"m":33},{"d":657,"m":33},{"d":665,"m":33},{"d":668,"m":33},{"d":671,"m":33},{"d":680,"m":33},{"d":694,"m":33},{"d":722,"m":33},{"d":726,"m":33},{"d":730,"m":33},{"d":740,"m":33},{"d":745,"m":33},{"d":750,"m":33},{"d":757,"m":33},{"d":779,"m":33},{"d":788,"m":33},{"d":790,"m":33},{"d":798,"m":33},{"d":802,"m":33},{"d":806,"m":33},{"d":814,"m":33},{"d":824,"m":33},{"d":844,"m":33},
{"d":-18,"m":32},{"d":8,"m":32},{"d":10,"m":32},{"d":47,"m":32},{"d":57,"m":32},{"d":60,"m":32},{"d":63,"m":32},{"d":86,"m":32},{"d":106,"m":32},{"d":117,"m":32},{"d":143,"m":32},{"d":148,"m":32},{"d":154,"m":32},{"d":174,"m":32},{"d":177,"m":32},{"d":185,"m":32},{"d":189,"m":32},{"d":193,"m":32},{"d":197,"m":32},{"d":202,"m":32},{"d":209,"m":32},{"d":222,"m":32},{"d":230,"m":32},{"d":261,"m":32},{"d":280,"m":32},{"d":291,"m":32},{"d":299,"m":32},{"d":302,"m":32},{"d":334,"m":32},{"d":349,"m":32},{"d":372,"m":32},{"d":402,"m":32},{"d":404,"m":32},{"d":407,"m":32},{"d":419,"m":32},{"d":464,"m":32},{"d":472,"m":32},{"d":490,"m":32},{"d":495,"m":32},{"d":510,"m":32},{"d":511,"m":32},{"d":513,"m":32},{"d":515,"m":32},{"d":519,"m":32},{"d":538,"m":32},{"d":542,"m":32},{"d":602,"m":32},{"d":606,"m":32},{"d":610,"m":32},{"d":615,"m":32},{"d":623,"m":32},{"d":630,"m":32},{"d":633,"m":32},{"d":637,"m":32},{"d":661,"m":32},{"d":664,"m":32},{"d":673,"m":32},{"d":676,"m":32},{"d":679,"m":32},{"d":682,"m":32},{"d":685,"m":32},{"d":688,"m":32},{"d":690,"m":32},{"d":692,"m":32},{"d":695,"m":32},{"d":698,"m":32},{"d":702,"m":32},{"d":706,"m":32},{"d":710,"m":32},{"d":733,"m":32},{"d":738,"m":32},{"d":752,"m":32},{"d":755,"m":32},{"d":759,"m":32},{"d":764,"m":32},{"d":773,"m":32},{"d":789,"m":32},{"d":791,"m":32},{"d":802,"m":32},{"d":804,"m":32},{"d":807,"m":32},{"d":811,"m":32},{"d":819,"m":32},{"d":827,"m":32},{"d":832,"m":32},
{"d":-8,"m":31},{"d":-5,"m":31},{"d":5,"m":31},{"d":31,"m":31},{"d":35,"m":31},{"d":39,"m":31},{"d":55,"m":31},{"d":166,"m":31},{"d":174,"m":31},{"d":185,"m":31},{"d":230,"m":31},{"d":235,"m":31},{"d":283,"m":31},{"d":328,"m":31},{"d":378,"m":31},{"d":394,"m":31},{"d":425,"m":31},{"d":430,"m":31},{"d":451,"m":31},{"d":453,"m":31},{"d":456,"m":31},{"d":480,"m":31},{"d":491,"m":31},{"d":505,"m":31},{"d":510,"m":31},{"d":526,"m":31},{"d":535,"m":31},{"d":540,"m":31},{"d":577,"m":31},{"d":600,"m":31},{"d":602,"m":31},{"d":607,"m":31},{"d":645,"m":31},{"d":655,"m":31},{"d":660,"m":31},{"d":664,"m":31},{"d":668,"m":31},{"d":672,"m":31},{"d":678,"m":31},{"d":693,"m":31},{"d":698,"m":31},{"d":728,"m":31},{"d":779,"m":31},{"d":791,"m":31},{"d":793,"m":31},{"d":804,"m":31},
{"d":13,"m":30},{"d":16,"m":30},{"d":22,"m":30},{"d":28,"m":30},{"d":37,"m":30},{"d":46,"m":30},{"d":162,"m":30},{"d":177,"m":30},{"d":185,"m":30},{"d":206,"m":30},{"d":222,"m":30},{"d":231,"m":30},{"d":279,"m":30},{"d":295,"m":30},{"d":300,"m":30},{"d":316,"m":30},{"d":326,"m":30},{"d":329,"m":30},{"d":335,"m":30},{"d":391,"m":30},{"d":490,"m":30},{"d":547,"m":30},{"d":563,"m":30},{"d":573,"m":30},{"d":621,"m":30},{"d":634,"m":30},{"d":641,"m":30},{"d":651,"m":30},{"d":659,"m":30},{"d":662,"m":30},{"d":667,"m":30},{"d":677,"m":30},{"d":691,"m":30},{"d":696,"m":30},{"d":710,"m":30},{"d":725,"m":30},{"d":732,"m":30},{"d":759,"m":30},{"d":773,"m":30},{"d":797,"m":30},{"d":811,"m":30},{"d":834,"m":30},
{"d":7,"m":29},{"d":21,"m":29},{"d":54,"m":29},{"d":57,"m":29},{"d":89,"m":29},{"d":123,"m":29},{"d":159,"m":29},{"d":185,"m":29},{"d":203,"m":29},{"d":274,"m":29},{"d":297,"m":29},{"d":357,"m":29},{"d":391,"m":29},{"d":415,"m":29},{"d":474,"m":29},{"d":545,"m":29},{"d":599,"m":29},{"d":621,"m":29},{"d":623,"m":29},{"d":659,"m":29},{"d":675,"m":29},{"d":689,"m":29},{"d":802,"m":29},
{"d":-5,"m":28},{"d":21,"m":28},{"d":39,"m":28},{"d":57,"m":28},{"d":156,"m":28},{"d":287,"m":28},{"d":329,"m":28},{"d":333,"m":28},{"d":336,"m":28},{"d":339,"m":28},{"d":346,"m":28},{"d":381,"m":28},{"d":438,"m":28},{"d":600,"m":28},{"d":621,"m":28},{"d":634,"m":28},{"d":644,"m":28},{"d":649,"m":28},{"d":675,"m":28},{"d":701,"m":28},{"d":783,"m":28},{"d":808,"m":28},
{"d":13,"m":27},{"d":21,"m":27},{"d":123,"m":27},{"d":252,"m":27},{"d":321,"m":27},{"d":333,"m":27},{"d":511,"m":27},{"d":526,"m":27},{"d":613,"m":27},{"d":650,"m":27},{"d":843,"m":27},
{"d":286,"m":26},{"d":328,"m":26},{"d":347,"m":26},{"d":472,"m":26},{"d":592,"m":26},{"d":612,"m":26},{"d":625,"m":26},{"d":693,"m":26},{"d":814,"m":26},
{"d":33,"m":25},{"d":104,"m":25},{"d":260,"m":25},{"d":347,"m":25},{"d":511,"m":25},{"d":550,"m":25},{"d":646,"m":25},
{"d":104,"m":24},{"d":550,"m":24},{"d":840,"m":24},
{"d":663,"m":22},{"d":156,"m":21}
],"lines":[{"d":-30.6,"m":45.1,"s":"a"},{"d":853,"m":44.75,"s":"a"},{"d":-29,"m":34.98,"s":"b"},{"d":853,"m":35.66,"s":"b"}]},"layer":[{"data":{"name":"pts"},"mark":{"type":"point","filled":true,"fill":"#ff0000","stroke":"#000","strokeWidth":2,"opacity":1,"size":234,"shape":"M-0.87,-1H0.87V1H-0.87Z"},"encoding":{"x":{"field":"d","type":"quantitative","scale":{"domain":[-26.4,851.8],"nice":false,"zero":false},"title":"Sünnikuupäev","axis":{"values":[0,90,180,270,360,450,540,630,720,810],"labelExpr":"timeFormat(datetime(2016,0,21+datum.value),'%d.%m.%y')","labelFontSize":39,"titleFontSize":38,"labelPadding":10,"tickSize":8,"tickColor":"#808080","tickWidth":1.5,"domainColor":"#000","domainWidth":3.5,"grid":true,"gridColor":"#808080","gridWidth":1.5,"gridDash":[8,6],"labelFlush":false,"labelOverlap":false,"labelBound":false,"titleY":98,"titleX":1148,"titleBaseline":"alphabetic"}},"y":{"field":"m","type":"quantitative","scale":{"domain":[20.65,59.85],"nice":false,"zero":false},"title":"Sünnimass","axis":{"values":[25,30,35,40,45,50,55],"labelFontSize":39,"titleFontSize":41,"labelPadding":8,"tickSize":6,"tickColor":"#808080","tickWidth":1.5,"domainColor":"#000","domainWidth":3.5,"grid":true,"gridColor":"#808080","gridWidth":2,"gridDash":[6,5],"labelOverlap":false,"labelBound":false,"titleX":-79,"titleY":412,"titleBaseline":"alphabetic","titleAngle":270}}}},{"data":{"name":"lines"},"mark":{"type":"line","color":"#9be86c","strokeWidth":9,"clip":false,"strokeCap":"butt"},"encoding":{"detail":{"field":"s"},"x":{"field":"d","type":"quantitative","scale":{"domain":[-26.4,851.8],"nice":false,"zero":false},"axis":{"orient":"bottom","values":[-22.5,22.5,45,67.5,112.5,135,157.5,202.5,225,247.5,292.5,315,337.5,382.5,405,427.5,472.5,495,517.5,562.5,585,607.5,652.5,675,697.5,742.5,765,787.5,832.5],"labels":false,"title":null,"domain":false,"grid":false,"tickSize":3,"tickColor":"#808080","tickWidth":1.5}},"y":{"field":"m","type":"quantitative","scale":{"domain":[20.65,59.85],"nice":false,"zero":false},"axis":{"orient":"left","values":[21,22,23,24,26,27,28,29,31,32,33,34,36,37,38,39,41,42,43,44,46,47,48,49,51,52,53,54,56,57,58,59],"labels":false,"title":null,"domain":false,"grid":false,"tickSize":2,"tickColor":"#808080","tickWidth":1.5}}}}],"resolve":{"axis":{"x":"independent","y":"independent"}}}
